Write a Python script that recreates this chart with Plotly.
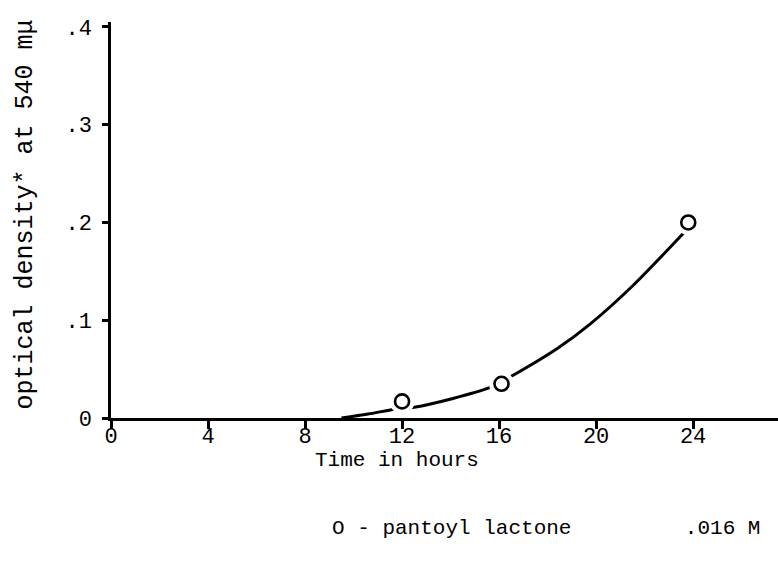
import plotly.graph_objects as go

# Data
curve_x = [9.5, 10.6, 11.7, 12.5, 14.1, 15.6, 16.6, 18.4, 19.75, 21.5, 23.6]
curve_y = [0.0, 0.004, 0.009, 0.011, 0.020, 0.031, 0.044, 0.071, 0.096, 0.135, 0.189]
point_x = [12.0, 16.1, 23.8]
point_y = [0.017, 0.035, 0.2]
x_ticks = [0, 4, 8, 12, 16, 20, 24]
x_tick_labels = ["0", "4", "8", "12", "16", "20", "24"]
y_ticks = [0, 0.1, 0.2, 0.3, 0.4]
y_tick_labels = ["0", ".1", ".2", ".3", ".4"]

FONT = "Liberation Mono, Courier New, monospace"
FS = 21

fig = go.Figure()
fig.add_trace(go.Scatter(x=curve_x, y=curve_y, mode="lines",
                         line=dict(color="black", width=3, shape="spline", smoothing=0.8),
                         hoverinfo="skip", showlegend=False))
# white halo to create gaps around the circles
fig.add_trace(go.Scatter(x=point_x, y=point_y, mode="markers",
                         marker=dict(size=25, color="white", line=dict(width=0)),
                         hoverinfo="skip", showlegend=False))
fig.add_trace(go.Scatter(x=point_x, y=point_y, mode="markers",
                         marker=dict(size=14, color="white", symbol="circle",
                                     line=dict(color="black", width=2.6)),
                         showlegend=False))

fig.update_layout(
    width=778, height=565,
    margin=dict(l=111, r=0, t=22, b=147),
    paper_bgcolor="white", plot_bgcolor="white",
    font=dict(family=FONT, size=FS, color="black"),
    xaxis=dict(range=[0, 27.5], tickvals=x_ticks, ticktext=x_tick_labels,
               showline=True, linecolor="black", linewidth=2.5,
               ticks="", showgrid=False, zeroline=False,
               ticklabelstandoff=-4,
               tickfont=dict(family=FONT, size=22),
               minor=dict(tickvals=x_ticks, ticks="outside", ticklen=8,
                          tickwidth=2.5, tickcolor="black", showgrid=False)),
    yaxis=dict(range=[0, 0.405], tickvals=y_ticks, ticktext=y_tick_labels,
               showline=True, linecolor="black", linewidth=2.5,
               ticks="outside", ticklen=6, tickwidth=2.5, tickcolor="black",
               showgrid=False, zeroline=False, ticklabelstandoff=6,
               tickfont=dict(family=FONT, size=22)),
    annotations=[
        dict(text="Time in hours", x=11.8, xref="x", y=-0.107, yref="paper",
             xanchor="center", yanchor="middle", showarrow=False,
             font=dict(family=FONT, size=FS)),
        dict(text="optical density* at 540 m\u03bc", x=-0.128, xref="paper",
             y=0.513, yref="paper", textangle=-90, xanchor="center",
             yanchor="middle", showarrow=False, font=dict(family=FONT, size=25)),
        dict(text="O - pantoyl lactone         .016 M", x=0.328, xref="paper",
             y=-0.278, yref="paper", xanchor="left", yanchor="middle",
             showarrow=False, font=dict(family=FONT, size=FS)),
    ],
)

fig.write_html("out.html")
